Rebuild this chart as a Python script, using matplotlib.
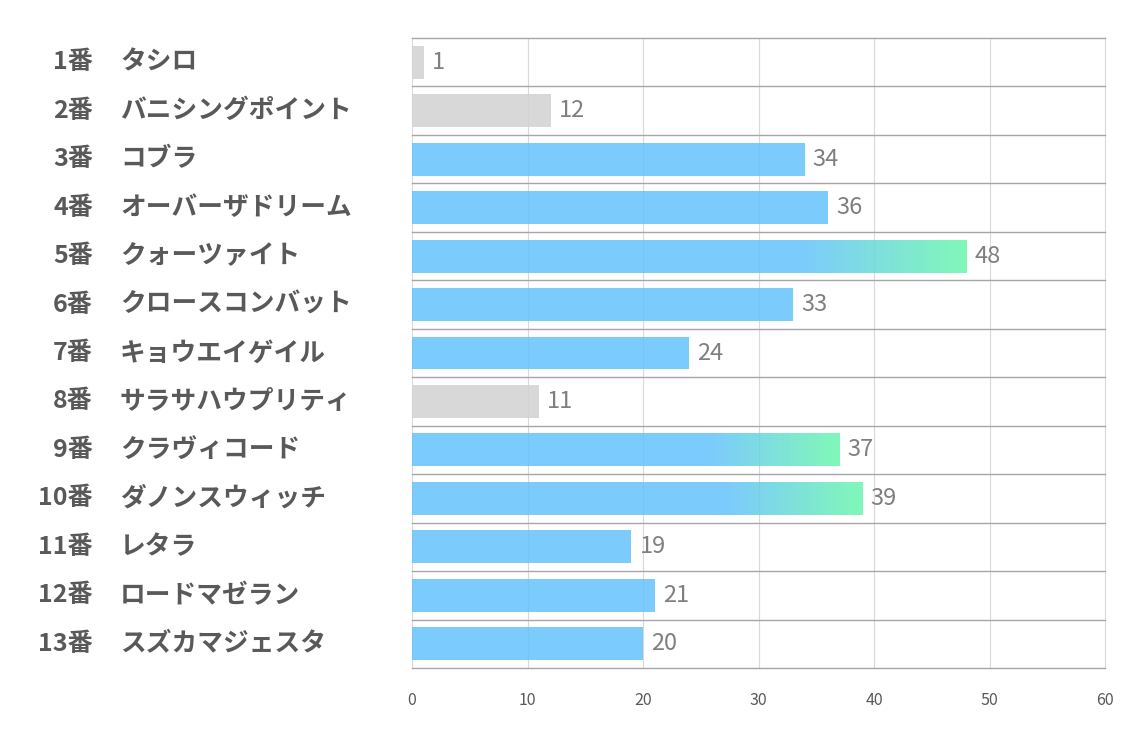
import matplotlib
matplotlib.use("Agg")
import matplotlib.pyplot as plt
import numpy as np
from matplotlib.colors import to_rgb
from matplotlib.transforms import blended_transform_factory

plt.rcParams['font.family'] = ['Noto Sans CJK JP', 'DejaVu Sans']

# データ
numbers = ["1番", "2番", "3番", "4番", "5番", "6番", "7番", "8番", "9番", "10番", "11番", "12番", "13番"]
names = ["タシロ", "バニシングポイント", "コブラ", "オーバーザドリーム", "クォーツァイト",
         "クロースコンバット", "キョウエイゲイル", "サラサハウプリティ", "クラヴィコード",
         "ダノンスウィッチ", "レタラ", "ロードマゼラン", "スズカマジェスタ"]
values = [1, 12, 34, 36, 48, 33, 24, 11, 37, 39, 19, 21, 20]
# 0: 灰色, 1: 青, 2: 青→緑グラデーション
kinds = [0, 0, 1, 1, 2, 1, 1, 0, 2, 2, 1, 1, 1]

blue = "#65c2fd"
green = "#6af7ac"
gray = "#d2d2d2"
alpha = 0.85
bar_h = 0.68

fig = plt.figure(figsize=(11.34, 7.37), dpi=100)
ax = fig.add_axes([412 / 1134, 1 - 668 / 737, (1105 - 412) / 1134, (668 - 38) / 737])

y = np.arange(len(values))
for i, (v, k) in enumerate(zip(values, kinds)):
    if k == 2:
        # グラデーション部分
        start = v * 0.7
        ax.barh(i, start, height=bar_h, color=blue, alpha=alpha, zorder=2, linewidth=0)
        t = np.linspace(0, 1, 200)
        c0 = np.array(to_rgb(blue))
        c1 = np.array(to_rgb(green))
        grad = np.zeros((1, 200, 4))
        grad[0, :, :3] = c0 + (c1 - c0) * t[:, None]
        grad[0, :, 3] = alpha
        ax.imshow(grad, extent=[start, v, i + bar_h / 2, i - bar_h / 2],
                  aspect='auto', zorder=2, interpolation='bilinear')
    else:
        ax.barh(i, v, height=bar_h, color=gray if k == 0 else blue,
                alpha=alpha, zorder=2, linewidth=0)
    ax.text(v + 0.7, i, str(v), va='center', ha='left', fontsize=17,
            color='#7f7f7f', zorder=3)

ax.set_xlim(0, 60)
ax.set_ylim(len(values) - 0.5, -0.5)

# グリッド
for x in range(0, 61, 10):
    ax.axvline(x, color='#d9d9d9', linewidth=0.8, zorder=1, clip_on=False)
for b in np.arange(-0.5, len(values), 1):
    ax.axhline(b, color='#a6a6a6', linewidth=1.0, zorder=1, clip_on=False)

for s in ax.spines.values():
    s.set_visible(False)
ax.set_yticks([])
ax.set_xticks(range(0, 61, 10))
ax.tick_params(axis='x', length=0, pad=17, labelsize=11.5, labelcolor='#595959')

# 馬番・馬名
tr = blended_transform_factory(fig.transFigure, ax.transData)
for i in range(len(values)):
    ax.text(93 / 1134, i, numbers[i], transform=tr, ha='right', va='center',
            fontsize=18, fontweight='bold', color='#595959')
    ax.text(120 / 1134, i, names[i], transform=tr, ha='left', va='center',
            fontsize=18.5, fontweight='bold', color='#595959')

fig.savefig("out.png", dpi=100, facecolor='white')
